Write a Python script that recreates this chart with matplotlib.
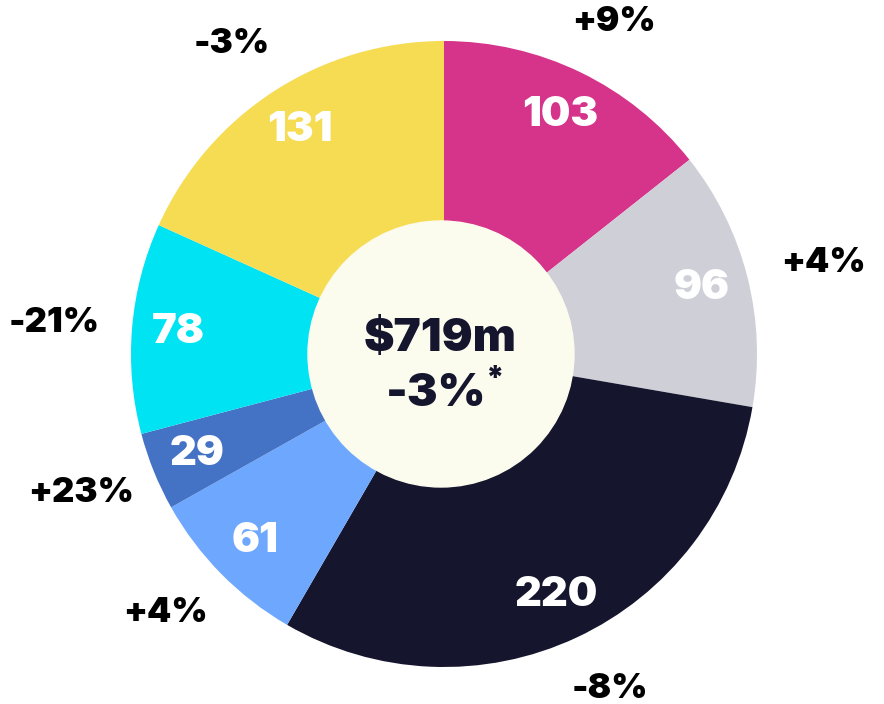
"""Donut chart of segment revenue ($m) with year-on-year change."""
import numpy as np
import matplotlib

matplotlib.use("Agg")
import matplotlib.pyplot as plt

values = [103, 96, 220, 61, 29, 78, 131]
changes = ["+9%", "+4%", "-8%", "+4%", "+23%", "-21%", "-3%"]
colors = ["#D6338A", "#CFCFD8", "#15152E", "#6EA8FE", "#4472C4", "#00E3F3", "#F6DC52"]
total_label = "$719m"
total_change = "-3%"

NAVY = "#15152E"

plt.rcParams.update({
    "font.family": ["Inter", "DejaVu Sans"],
    "font.weight": 900,
})

W, H = 884, 704
CX, CY = 444, H - 354
R, R_IN = 313, 133

fig = plt.figure(figsize=(W / 100, H / 100), dpi=100)
ax = fig.add_axes([0, 0, 1, 1])

wedges, _ = ax.pie(values, colors=colors, startangle=90, counterclock=False,
                   center=(CX, CY), radius=R, wedgeprops=dict(linewidth=0))
ax.add_patch(plt.Circle((CX - 3, CY), R_IN, color="#FBFBEE", zorder=3))

# value inside each wedge, change outside (on a slightly wide ellipse)
for w, v, ch in zip(wedges, values, changes):
    ang = np.deg2rad((w.theta1 + w.theta2) / 2)
    ax.text(CX + 0.85 * R * np.cos(ang), CY + 0.85 * R * np.sin(ang), str(v),
            ha="center", va="center", color="white", fontsize=30, fontweight=900)
    ax.text(CX + 1.25 * R * np.cos(ang), CY + 1.18 * R * np.sin(ang), ch,
            ha="center", va="center", color="black", fontsize=25, fontweight=900)

ax.text(CX - 4, CY + 15, total_label, ha="center", va="center", color=NAVY,
        fontsize=33, fontweight=900, zorder=4)
pct = ax.text(CX - 8, CY - 40, total_change, ha="center", va="center", color=NAVY,
              fontsize=33, fontweight=900, zorder=4)
ax.annotate("*", xy=(1.0, 1.0), xycoords=pct, xytext=(-1, 6), textcoords="offset points",
            ha="left", va="top", color=NAVY, fontsize=22, fontweight=900, zorder=4)

ax.set_xlim(0, W)
ax.set_ylim(0, H)
ax.set_aspect("equal")
ax.axis("off")

fig.savefig("out.png", dpi=100)
